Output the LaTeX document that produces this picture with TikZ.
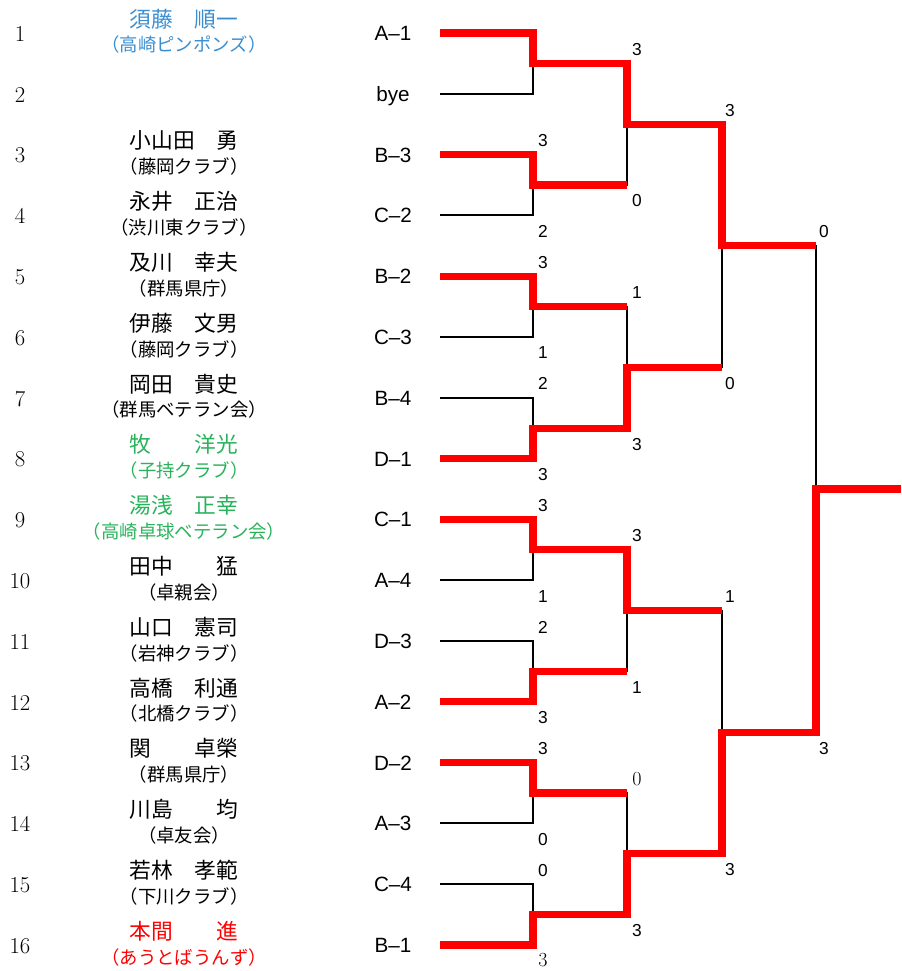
\documentclass[tikz,border=0pt]{standalone}
\usepackage{fontspec}
\usepackage{xcolor}
\usepackage{tikz}
\usetikzlibrary{positioning,calc}

\newfontfamily\cjk{Noto Sans CJK JP}
\newfontfamily\arial{Liberation Sans}

\definecolor{seedblue}{RGB}{58,142,208}
\definecolor{seedgreen}{RGB}{40,178,90}

\tikzset{
  num/.style={font=\fontsize{17}{17}\selectfont},
  pname/.style={font=\cjk\fontsize{16.3}{17}\selectfont},
  club/.style={font=\cjk\fontsize{13.8}{14}\selectfont},
  seed/.style={font=\arial\fontsize{15.5}{16}\selectfont, text height=11.1pt, text depth=0pt},
  score/.style={font=\arial\fontsize{13}{13}\selectfont},
  mscore/.style={font=\fontsize{15}{15}\selectfont},
  loss/.style={line width=1.6pt},
  win/.style={red, line width=5.4pt},
}

\begin{document}
\begin{tikzpicture}[x=0.75pt,y=-0.75pt]
    \useasboundingbox (0,0) rectangle (901,971);

    % Entry numbers
    \node[num] (no1) at (20,34) {1};
    \node[num] (no2) at (20,94.8) {2};
    \node[num] (no3) at (20,155.6) {3};
    \node[num] (no4) at (20,216.4) {4};
    \node[num] (no5) at (20,277.2) {5};
    \node[num] (no6) at (20,338) {6};
    \node[num] (no7) at (20,398.8) {7};
    \node[num] (no8) at (20,459.6) {8};
    \node[num] (no9) at (20,520.4) {9};
    \node[num] (no10) at (20,581.2) {10};
    \node[num] (no11) at (20,642) {11};
    \node[num] (no12) at (20,702.8) {12};
    \node[num] (no13) at (20,763.6) {13};
    \node[num] (no14) at (20,824.4) {14};
    \node[num] (no15) at (20,885.2) {15};
    \node[num] (no16) at (20,946) {16};

    % Players
    \node[pname, seedblue] (nm1) at (184,19) {須藤　順一};
    \node[club, seedblue] (cl1) at (184,45) {（高崎ピンポンズ）};
    \node[pname] (nm3) at (184,140.6) {小山田　勇};
    \node[club] (cl3) at (184,166.6) {（藤岡クラブ）};
    \node[pname] (nm4) at (184,201.4) {永井　正治};
    \node[club] (cl4) at (184,227.4) {（渋川東クラブ）};
    \node[pname] (nm5) at (184,262.2) {及川　幸夫};
    \node[club] (cl5) at (184,288.2) {（群馬県庁）};
    \node[pname] (nm6) at (184,323) {伊藤　文男};
    \node[club] (cl6) at (184,349) {（藤岡クラブ）};
    \node[pname] (nm7) at (184,383.8) {岡田　貴史};
    \node[club] (cl7) at (184,409.8) {（群馬ベテラン会）};
    \node[pname, seedgreen] (nm8) at (184,444.6) {牧　　洋光};
    \node[club, seedgreen] (cl8) at (184,470.6) {（子持クラブ）};
    \node[pname, seedgreen] (nm9) at (184,505.4) {湯浅　正幸};
    \node[club, seedgreen] (cl9) at (184,531.4) {（高崎卓球ベテラン会）};
    \node[pname] (nm10) at (184,566.2) {田中　　猛};
    \node[club] (cl10) at (184,592.2) {（卓親会）};
    \node[pname] (nm11) at (184,627) {山口　憲司};
    \node[club] (cl11) at (184,653) {（岩神クラブ）};
    \node[pname] (nm12) at (184,687.8) {高橋　利通};
    \node[club] (cl12) at (184,713.8) {（北橋クラブ）};
    \node[pname] (nm13) at (184,748.6) {関　　卓榮};
    \node[club] (cl13) at (184,774.6) {（群馬県庁）};
    \node[pname] (nm14) at (184,809.4) {川島　　均};
    \node[club] (cl14) at (184,835.4) {（卓友会）};
    \node[pname] (nm15) at (184,870.2) {若林　孝範};
    \node[club] (cl15) at (184,896.2) {（下川クラブ）};
    \node[pname, red] (nm16) at (184,931) {本間　　進};
    \node[club, red] (cl16) at (184,957) {（あうとばうんず）};

    % Seeds
    \node[seed] (sd1) at (393,33) {A–1};
    \node[seed] (sd2) at (393,93.8) {bye};
    \node[seed] (sd3) at (393,154.6) {B–3};
    \node[seed] (sd4) at (393,215.4) {C–2};
    \node[seed] (sd5) at (393,276.2) {B–2};
    \node[seed] (sd6) at (393,337) {C–3};
    \node[seed] (sd7) at (393,397.8) {B–4};
    \node[seed] (sd8) at (393,458.6) {D–1};
    \node[seed] (sd9) at (393,519.4) {C–1};
    \node[seed] (sd10) at (393,580.2) {A–4};
    \node[seed] (sd11) at (393,641) {D–3};
    \node[seed] (sd12) at (393,701.8) {A–2};
    \node[seed] (sd13) at (393,762.6) {D–2};
    \node[seed] (sd14) at (393,823.4) {A–3};
    \node[seed] (sd15) at (393,884.2) {C–4};
    \node[seed] (sd16) at (393,945) {B–1};

    % Line ends and junctions
    \coordinate (l1) at (440,33);
    \coordinate (l2) at (440,93.8);
    \coordinate (l3) at (440,154.6);
    \coordinate (l4) at (440,215.4);
    \coordinate (l5) at (440,276.2);
    \coordinate (l6) at (440,337);
    \coordinate (l7) at (440,397.8);
    \coordinate (l8) at (440,458.6);
    \coordinate (l9) at (440,519.4);
    \coordinate (l10) at (440,580.2);
    \coordinate (l11) at (440,641);
    \coordinate (l12) at (440,701.8);
    \coordinate (l13) at (440,762.6);
    \coordinate (l14) at (440,823.4);
    \coordinate (l15) at (440,884.2);
    \coordinate (l16) at (440,945);
    \coordinate (j11) at (533,63.4);
    \coordinate (j12) at (533,185);
    \coordinate (j13) at (533,306.6);
    \coordinate (j14) at (533,428.2);
    \coordinate (j15) at (533,549.8);
    \coordinate (j16) at (533,671.4);
    \coordinate (j17) at (533,793);
    \coordinate (j18) at (533,914.6);
    \coordinate (j21) at (627,124.2);
    \coordinate (j22) at (627,367.4);
    \coordinate (j23) at (627,610.6);
    \coordinate (j24) at (627,853.8);
    \coordinate (j31) at (722,245.8);
    \coordinate (j32) at (722,732.2);
    \coordinate (j41) at (816,489);
    \coordinate (champ) at (901,489);

    % Bracket
    \draw[loss] (l1) -| (j11) (l2) -| (j11);
    \draw[loss] (l3) -| (j12) (l4) -| (j12);
    \draw[loss] (l5) -| (j13) (l6) -| (j13);
    \draw[loss] (l7) -| (j14) (l8) -| (j14);
    \draw[loss] (l9) -| (j15) (l10) -| (j15);
    \draw[loss] (l11) -| (j16) (l12) -| (j16);
    \draw[loss] (l13) -| (j17) (l14) -| (j17);
    \draw[loss] (l15) -| (j18) (l16) -| (j18);
    \draw[loss] (j11) -| (j21) (j12) -| (j21);
    \draw[loss] (j13) -| (j22) (j14) -| (j22);
    \draw[loss] (j15) -| (j23) (j16) -| (j23);
    \draw[loss] (j17) -| (j24) (j18) -| (j24);
    \draw[loss] (j21) -| (j31) (j22) -| (j31);
    \draw[loss] (j23) -| (j32) (j24) -| (j32);
    \draw[loss] (j31) -| (j41) (j32) -| (j41);

    % Winners
    \draw[win] (l1) -| (j11) -| (j21) -| (j31) -- (j31 -| j41);
    \draw[win] (l3) -| (j12) -- (j12 -| j21);
    \draw[win] (l5) -| (j13) -- (j13 -| j22);
    \draw[win] (l8) -| (j14) -| (j22) -- (j22 -| j31);
    \draw[win] (l9) -| (j15) -| (j23) -- (j23 -| j32);
    \draw[win] (l12) -| (j16) -- (j16 -| j23);
    \draw[win] (l13) -| (j17) -- (j17 -| j24);
    \draw[win] (l16) -| (j18) -| (j24) -| (j32) -| (j41) -- (champ);

    % Scores
    \node[score] (sc3) at (543,140.6) {3};
    \node[score] (sc4) at (543,231.4) {2};
    \node[score] (sc5) at (543,262.2) {3};
    \node[score] (sc6) at (543,353) {1};
    \node[score] (sc7) at (543,383.8) {2};
    \node[score] (sc8) at (543,474.6) {3};
    \node[score] (sc9) at (543,505.4) {3};
    \node[score] (sc10) at (543,596.2) {1};
    \node[score] (sc11) at (543,627) {2};
    \node[score] (sc12) at (543,717.8) {3};
    \node[score] (sc13) at (543,748.6) {3};
    \node[score] (sc14) at (543,839.4) {0};
    \node[score] (sc15) at (543,870.2) {0};
    \node[mscore] (sc16) at (543,960) {3};
    \node[score] (sc21a) at (637,49.4) {3};
    \node[score] (sc21b) at (637,201) {0};
    \node[score] (sc22a) at (637,292.6) {1};
    \node[score] (sc22b) at (637,444.2) {3};
    \node[score] (sc23a) at (637,535.8) {3};
    \node[score] (sc23b) at (637,687.4) {1};
    \node[mscore] (sc24a) at (637,779) {0};
    \node[score] (sc24b) at (637,930.6) {3};
    \node[score] (sc31a) at (730,110.2) {3};
    \node[score] (sc31b) at (730,383.4) {0};
    \node[score] (sc32a) at (730,596.6) {1};
    \node[score] (sc32b) at (730,869.8) {3};
    \node[score] (sc41a) at (824,231.8) {0};
    \node[score] (sc41b) at (824,748.2) {3};
\end{tikzpicture}
\end{document}
